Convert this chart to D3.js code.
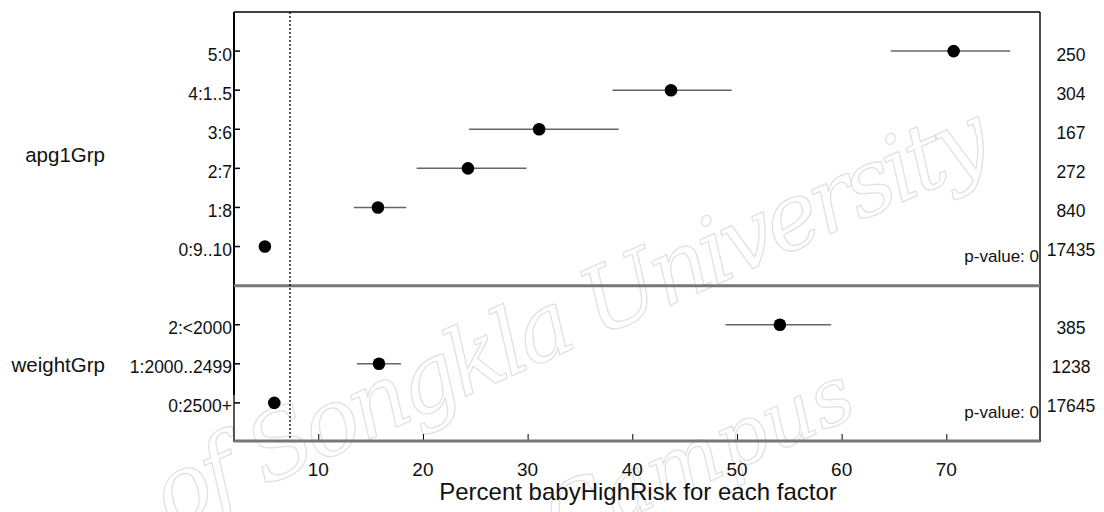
<!DOCTYPE html>
<html lang="en">
<head>
    <meta charset="UTF-8">
    <title>Percent babyHighRisk for each factor</title>
    <script src="https://d3js.org/d3.v7.min.js"></script>
    <style>
        body { margin: 0; background: #fff; }
        svg { display: block; font-family: "Liberation Sans", Arial, sans-serif; }
        .watermark { fill: none; stroke: #e0e0e0; stroke-width: 1.2; font-family: "DejaVu Serif", serif; font-style: italic; }
    </style>
</head>
<body>
    <svg id="chart"></svg>

    <script>
        // factor 1: apgar score group
        var apgLevels = ["5:0", "4:1..5", "3:6", "2:7", "1:8", "0:9..10"];
        var apgPct = [70.7, 43.7, 31.1, 24.3, 15.7, 4.9];
        var apgLo = [64.7, 38.1, 24.4, 19.4, 13.4, 4.6];
        var apgHi = [76.1, 49.5, 38.7, 29.9, 18.4, 5.3];
        var apgN = [250, 304, 167, 272, 840, 17435];

        // factor 2: birth weight group
        var weightLevels = ["2:<2000", "1:2000..2499", "0:2500+"];
        var weightPct = [54.1, 15.8, 5.8];
        var weightLo = [48.9, 13.7, 5.5];
        var weightHi = [59.0, 17.9, 6.1];
        var weightN = [385, 1238, 17645];

        var factorNames = ["apg1Grp", "weightGrp"];
        var pValues = ["p-value: 0", "p-value: 0"];
        var overallPct = 7.3;
        var xTicks = [10, 20, 30, 40, 50, 60, 70];

        var width = 1104, height = 512;
        var plotL = 234, plotR = 1040, plotT = 12, plotB = 442;

        var svg = d3.select("#chart")
            .attr("width", width)
            .attr("height", height);

        // watermark
        svg.append("text")
            .attr("class", "watermark")
            .attr("transform", "translate(170,528) rotate(-24)")
            .attr("font-size", 92)
            .attr("textLength", 905)
            .text("of Songkla University");
        svg.append("text")
            .attr("class", "watermark")
            .attr("transform", "translate(560,548) rotate(-24)")
            .attr("font-size", 80)
            .text("Campus");

        // rows: one empty slot above and below each group
        var rows = [];
        apgLevels.forEach(function(l, i) {
            rows.push({level: l, pct: apgPct[i], lo: apgLo[i], hi: apgHi[i], n: apgN[i], pos: i + 1, group: 0});
        });
        weightLevels.forEach(function(l, i) {
            rows.push({level: l, pct: weightPct[i], lo: weightLo[i], hi: weightHi[i], n: weightN[i], pos: i + 8, group: 1});
        });

        var x = d3.scaleLinear().domain([1.95, 78.95]).range([plotL, plotR]);
        var y = d3.scaleLinear().domain([0, 11]).range([plotT, plotB]);

        // frame
        svg.append("line").attr("x1", plotL).attr("x2", plotR).attr("y1", plotT).attr("y2", plotT)
            .attr("stroke", "#000").attr("stroke-width", 1.5);
        svg.append("line").attr("x1", plotR).attr("x2", plotR).attr("y1", plotT).attr("y2", plotB)
            .attr("stroke", "#111").attr("stroke-width", 1.5);
        svg.append("line").attr("x1", plotL).attr("x2", plotL).attr("y1", plotT).attr("y2", y(9.8))
            .attr("stroke", "#000").attr("stroke-width", 2);
        svg.append("line").attr("x1", plotL).attr("x2", plotL).attr("y1", y(9.8)).attr("y2", plotB)
            .attr("stroke", "#555").attr("stroke-width", 2);
        svg.append("line").attr("x1", plotL).attr("x2", plotR).attr("y1", y(7)).attr("y2", y(7))
            .attr("stroke", "#777").attr("stroke-width", 3);

        // x axis
        var xAxis = svg.append("g")
            .attr("transform", "translate(0," + (plotB - 1) + ")")
            .call(d3.axisTop(x).tickValues(xTicks).tickSize(7).tickFormat(""));
        xAxis.select(".domain").remove();
        xAxis.selectAll(".tick line").attr("stroke", "#000");
        svg.append("line").attr("x1", plotL).attr("x2", plotR).attr("y1", plotB - 1).attr("y2", plotB - 1)
            .attr("stroke", "#777").attr("stroke-width", 3);

        svg.selectAll(".xlab")
            .data(xTicks)
            .enter().append("text")
            .attr("x", d => x(d))
            .attr("y", 476)
            .attr("text-anchor", "middle")
            .attr("font-size", 19)
            .attr("fill", "#111")
            .text(d => d);

        svg.append("text")
            .attr("x", 638)
            .attr("y", 500)
            .attr("text-anchor", "middle")
            .attr("font-size", 24)
            .attr("fill", "#111")
            .text("Percent babyHighRisk for each factor");

        // overall reference line
        svg.append("line")
            .attr("x1", x(overallPct)).attr("x2", x(overallPct))
            .attr("y1", plotT).attr("y2", plotB - 2)
            .attr("stroke", "#000").attr("stroke-width", 1.3)
            .attr("stroke-dasharray", "2,2");

        // y ticks and labels
        svg.selectAll(".ytick")
            .data(rows)
            .enter().append("line")
            .attr("x1", plotL).attr("x2", plotL + 6)
            .attr("y1", d => y(d.pos)).attr("y2", d => y(d.pos))
            .attr("stroke", "#000").attr("stroke-width", 1.5);

        svg.selectAll(".ylab")
            .data(rows)
            .enter().append("text")
            .attr("x", plotL - 2)
            .attr("y", d => y(d.pos) + 9.5)
            .attr("text-anchor", "end")
            .attr("font-size", 17.5)
            .attr("fill", "#111")
            .text(d => d.level);

        // factor names
        svg.append("text")
            .attr("x", 105).attr("y", y(3.5) + 13)
            .attr("text-anchor", "end").attr("font-size", 20.5).attr("fill", "#111")
            .text(factorNames[0]);
        svg.append("text")
            .attr("x", 105).attr("y", y(9) + 8)
            .attr("text-anchor", "end").attr("font-size", 20.5).attr("fill", "#111")
            .text(factorNames[1]);

        // confidence intervals
        svg.selectAll(".ci")
            .data(rows)
            .enter().append("line")
            .attr("x1", d => x(d.lo)).attr("x2", d => x(d.hi))
            .attr("y1", d => y(d.pos)).attr("y2", d => y(d.pos))
            .attr("stroke", "#666").attr("stroke-width", 1.5);

        // points
        svg.selectAll(".pt")
            .data(rows)
            .enter().append("circle")
            .attr("cx", d => x(d.pct))
            .attr("cy", d => y(d.pos))
            .attr("r", 6.3)
            .attr("fill", "#000");

        // counts
        svg.selectAll(".cnt")
            .data(rows)
            .enter().append("text")
            .attr("x", 1071)
            .attr("y", d => y(d.pos) + 9.5)
            .attr("text-anchor", "middle")
            .attr("font-size", 17.5)
            .attr("fill", "#111")
            .text(d => d.n);

        // p-values
        [6, 10].forEach(function(p, i) {
            svg.append("text")
                .attr("x", plotR - 1)
                .attr("y", y(p) + 15.5)
                .attr("text-anchor", "end")
                .attr("font-size", 17)
                .attr("fill", "#111")
                .text(pValues[i]);
        });
    </script>
</body>
</html>
